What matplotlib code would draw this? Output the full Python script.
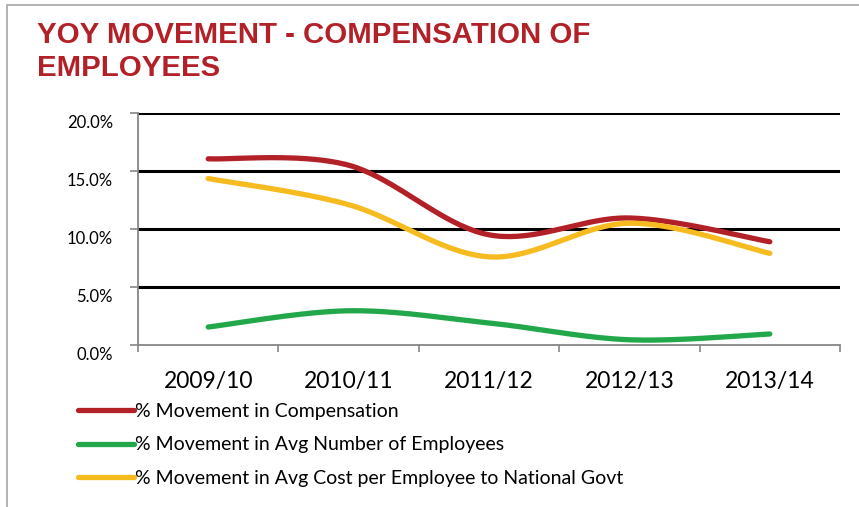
import numpy as np
import matplotlib
matplotlib.use("Agg")
import matplotlib.pyplot as plt
import matplotlib.transforms as mtransforms
from matplotlib.patches import Rectangle

# chart data
years = ["2009/10", "2010/11", "2011/12", "2012/13", "2013/14"]
compensation = [16.05, 15.5, 9.5, 10.95, 8.9]
num_employees = [1.55, 2.95, 1.9, 0.45, 0.95]
cost_per_employee = [14.35, 12.1, 7.6, 10.5, 7.9]

series_labels = ["% Movement in Compensation",
                 "% Movement in Avg Number of Employees",
                 "% Movement in Avg Cost per Employee to National Govt"]
series_colors = ["#B22028", "#22A84A", "#F6BB1E"]

plt.rcParams['font.family'] = ['Lato', 'DejaVu Sans']


def smooth(xs, ys, n=40):
    # Excel-style smoothed line: cubic bezier through the points
    pts = np.column_stack([xs, ys]).astype(float)
    out = []
    for i in range(len(pts) - 1):
        p0 = pts[i - 1] if i > 0 else pts[i]
        p1 = pts[i]
        p2 = pts[i + 1]
        p3 = pts[i + 2] if i + 2 < len(pts) else pts[i + 1]
        c1 = p1 + (p2 - p0) / 6.0
        c2 = p2 - (p3 - p1) / 6.0
        t = np.linspace(0, 1, n)[:, None]
        seg = ((1 - t) ** 3) * p1 + 3 * ((1 - t) ** 2) * t * c1 + 3 * (1 - t) * t ** 2 * c2 + t ** 3 * p2
        out.append(seg if i == 0 else seg[1:])
    seg = np.vstack(out)
    return seg[:, 0], seg[:, 1]


fig = plt.figure(figsize=(8.59, 5.07), dpi=100)
W, H = 859, 507

# outer frame
fig.patches.append(Rectangle((7 / W, -0.01), 1.1, 1 - 5 / H + 0.01, transform=fig.transFigure,
                             fill=False, edgecolor="#A6A6A6", linewidth=1.2))

title_kw = dict(fontfamily=['Liberation Sans'], fontweight='bold', fontsize=21.2,
                color="#B22028", va='baseline', ha='left')
fig.text(37 / W, 1 - 43 / H, "YOY MOVEMENT - COMPENSATION OF", **title_kw)
fig.text(37 / W, 1 - 76 / H, "EMPLOYEES", **title_kw)

ax = fig.add_axes([138 / W, 1 - 345 / H, (840 - 138) / W, (345 - 113) / H])

x = np.arange(len(years))
for vals, lab, col in zip([compensation, num_employees, cost_per_employee], series_labels, series_colors):
    sx, sy = smooth(x, vals)
    ax.plot(sx, sy, color=col, linewidth=3.8, solid_capstyle='round', label=lab, zorder=3)

ax.set_xlim(-0.5, len(years) - 0.5)
ax.set_ylim(0, 20)

for v in [5, 10, 15, 20]:
    ax.axhline(v, color='black', linewidth=2.2, zorder=2)

ax.set_yticks([0, 5, 10, 15, 20])
ax.set_yticklabels(["0.0%", "5.0%", "10.0%", "15.0%", "20.0%"])
ax.set_xticks(x)
ax.set_xticklabels(years)
ax.set_xticks(np.arange(-0.5, len(years)), minor=True)

for s in ['top', 'right']:
    ax.spines[s].set_visible(False)
for s in ['left', 'bottom']:
    ax.spines[s].set_color('#868686')
    ax.spines[s].set_linewidth(1.3)

ax.tick_params(axis='y', length=6, width=1.2, color='#868686', pad=12, labelsize=12)
ax.tick_params(axis='x', which='major', length=0, pad=19, labelsize=16.5)
ax.tick_params(axis='x', which='minor', length=5, width=1.2, color='#868686')

# y labels sit a little below their gridlines in the reference
off = mtransforms.ScaledTranslation(0, -9 / 100, fig.dpi_scale_trans)
for lbl in ax.get_yticklabels():
    lbl.set_transform(lbl.get_transform() + off)

leg = fig.legend(loc='upper left', bbox_to_anchor=(70 / W, 1 - 395 / H), frameon=False,
                 fontsize=14, handlelength=2.9, handletextpad=0.05, labelspacing=0.85,
                 borderaxespad=0)

fig.savefig("out.png", dpi=100)
